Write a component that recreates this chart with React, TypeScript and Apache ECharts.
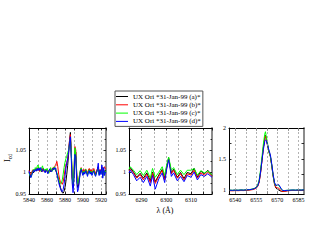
import React, { useEffect, useRef } from "react";
import * as echarts from "echarts";

const FONT = '"Liberation Serif", "Times New Roman", serif';

const NAMES = [
  "UX Ori *31-Jan-99 (a)*",
  "UX Ori *31-Jan-99 (b)*",
  "UX Ori *31-Jan-99 (c)*",
  "UX Ori *31-Jan-99 (d)*",
];
const COLORS = ["#000000", "#ff0000", "#00ff00", "#0000ff"];

// Panel 1 (Na D region)
const X1 = [
  5840, 5841, 5842, 5843, 5844, 5845, 5846, 5847, 5848, 5849, 5850, 5851, 5852, 5853, 5854, 5855, 5856, 5857, 5858, 5859,
  5860, 5861, 5862, 5863, 5864, 5865, 5866, 5867, 5868, 5869, 5870, 5871, 5872, 5873, 5874, 5875, 5876, 5877, 5878, 5879,
  5880, 5881, 5882, 5883, 5884, 5885, 5886, 5887, 5888, 5889, 5890, 5891, 5892, 5893, 5894, 5895, 5896, 5897, 5898, 5899,
  5900, 5901, 5902, 5903, 5904, 5905, 5906, 5907, 5908, 5909, 5910, 5911, 5912, 5913, 5914, 5915, 5916, 5917, 5918, 5919,
  5920, 5921, 5922, 5923, 5924, 5925,
];
const P1_A = [
  1.0, 0.995, 0.99, 0.996, 1.002, 0.998, 1.003, 1.006, 1.002, 1.007, 1.004, 1.009, 1.003, 1.006, 1.001, 1.004, 1.008, 1.003, 1.0, 1.005,
  1.002, 0.998, 1.003, 1.006, 1.001, 1.004, 1.008, 1.005, 1.01, 1.006, 1.002, 0.996, 0.99, 0.982, 0.973, 0.965, 0.958, 0.953, 0.952, 0.956,
  0.965, 0.978, 0.995, 1.015, 1.04, 1.07, 1.09, 1.045, 0.99, 0.965, 0.99, 1.03, 1.045, 1.0, 0.965, 0.968, 0.985, 1.0, 1.008, 1.002,
  0.995, 1.003, 0.998, 1.004, 1.0, 0.995, 1.002, 1.006, 0.999, 1.003, 0.996, 1.001, 1.005, 0.998, 0.994, 1.0, 1.004, 1.01, 0.995, 1.003,
  0.998, 1.012, 0.992, 1.005, 0.998, 1.004,
];
const P1_B = [
  1.004, 0.998, 0.993, 0.999, 1.005, 1.001, 1.006, 1.003, 1.008, 1.004, 1.01, 1.005, 1.001, 1.007, 1.003, 1.008, 1.004, 1.0, 1.005, 1.002,
  1.006, 1.001, 0.998, 1.004, 1.008, 1.003, 1.006, 1.011, 1.007, 1.014, 1.018, 1.024, 1.012, 0.995, 0.984, 0.976, 0.974, 0.972, 0.978, 0.99,
  1.005, 1.015, 1.022, 1.03, 1.048, 1.07, 1.085, 1.04, 0.985, 0.97, 1.0, 1.058, 1.05, 0.995, 0.97, 0.975, 0.99, 1.002, 1.01, 1.004,
  0.998, 1.006, 1.001, 1.007, 1.002, 0.997, 1.004, 1.008, 1.002, 1.006, 0.999, 1.004, 1.008, 1.001, 0.997, 1.003, 1.007, 1.012, 0.998, 1.006,
  1.001, 1.01, 0.995, 1.008, 1.012, 1.006,
];
const P1_C = [
  0.998, 0.992, 0.988, 0.994, 1.0, 1.006, 1.002, 1.01, 1.005, 1.012, 1.016, 1.006, 1.01, 1.002, 1.008, 1.014, 1.006, 1.002, 1.007, 1.003,
  1.008, 1.002, 0.997, 1.005, 1.01, 1.004, 1.002, 1.008, 1.012, 1.008, 1.004, 0.998, 0.99, 0.982, 0.976, 0.973, 0.975, 0.982, 0.995, 1.01,
  1.022, 1.03, 1.036, 1.044, 1.05, 1.062, 1.075, 1.045, 0.99, 0.972, 1.005, 1.055, 1.04, 0.99, 0.972, 0.978, 0.992, 1.004, 1.009, 1.0,
  0.994, 1.002, 0.997, 1.006, 1.001, 0.993, 1.0, 1.005, 0.997, 1.002, 0.994, 1.0, 1.004, 0.996, 0.992, 0.999, 1.003, 1.008, 0.994, 1.002,
  0.996, 1.008, 0.99, 1.003, 0.997, 1.002,
];
const P1_D = [
  1.002, 0.994, 0.987, 0.992, 0.999, 1.004, 1.0, 1.006, 1.002, 1.008, 1.003, 1.009, 1.004, 1.01, 1.004, 1.001, 1.006, 1.002, 0.998, 1.004,
  1.001, 0.996, 1.002, 1.007, 1.003, 1.0, 1.005, 1.009, 1.006, 1.01, 1.004, 0.995, 0.985, 0.976, 0.968, 0.962, 0.957, 0.955, 0.96, 0.972,
  0.99, 1.008, 1.02, 1.03, 1.045, 1.065, 1.08, 1.03, 0.975, 0.953, 0.985, 1.04, 1.035, 0.98, 0.955, 0.962, 0.982, 0.998, 1.006, 0.998,
  0.992, 1.0, 0.995, 1.003, 0.998, 0.99, 0.998, 1.003, 0.995, 1.0, 0.992, 0.998, 1.002, 0.994, 0.99, 0.997, 1.006, 1.02, 0.992, 1.004,
  0.994, 1.016, 0.986, 1.01, 0.992, 1.0,
];

// Panel 2
const X2 = [
  6285, 6285.5, 6286.8, 6288.1, 6289.5, 6290.8, 6292.2, 6293.6, 6294.5, 6295.6, 6297, 6298.4, 6299.4, 6300.2, 6301, 6302.1,
  6303, 6304.5, 6305.8, 6307.2, 6308.5, 6310, 6311.3, 6312.6, 6314, 6315.4, 6316.8, 6318.5,
];
const P2_A = [
  1.004, 1.01, 1.0, 0.988, 0.997, 0.986, 0.998, 0.98, 1.0, 0.978, 0.993, 1.006, 0.986, 1.012, 1.032, 0.998,
  1.006, 0.988, 0.999, 0.985, 0.999, 0.996, 1.008, 0.989, 1.002, 0.996, 1.004, 0.992,
];
const P2_B = [
  1.002, 1.006, 0.998, 0.986, 0.994, 0.982, 0.995, 0.976, 0.998, 0.974, 0.99, 1.004, 0.982, 1.01, 1.03, 0.996,
  1.004, 0.986, 0.996, 0.982, 0.996, 0.993, 1.004, 0.986, 0.998, 0.993, 1.0, 0.99,
];
const P2_C = [
  1.006, 1.012, 1.004, 0.994, 1.003, 0.992, 1.004, 0.986, 1.008, 0.988, 0.999, 1.012, 0.992, 1.016, 1.034, 1.004,
  1.01, 0.994, 1.004, 0.994, 1.004, 1.004, 1.008, 0.993, 1.003, 0.998, 1.002, 0.994,
];
const P2_D = [
  0.998, 1.004, 0.994, 0.98, 0.988, 0.976, 0.99, 0.968, 0.992, 0.961, 0.984, 0.998, 0.976, 1.006, 1.028, 0.99,
  0.998, 0.98, 0.99, 0.978, 0.992, 0.988, 1.0, 0.982, 0.994, 0.99, 0.996, 0.988,
];

// Panel 3 (H-alpha)
const X3 = [
  6536, 6538, 6540, 6542, 6544, 6546, 6548, 6550, 6552, 6553.5, 6555, 6556, 6557, 6558, 6559, 6560, 6561, 6561.5, 6562, 6563,
  6564, 6565, 6566, 6567, 6568, 6569, 6570, 6571, 6572, 6573, 6574, 6575, 6577, 6579, 6581, 6583, 6585, 6587, 6589,
];
const P3_A = [
  0.995, 0.992, 0.996, 0.993, 0.997, 0.995, 1.0, 1.003, 1.01, 1.02, 1.04, 1.07, 1.13, 1.28, 1.48, 1.68, 1.84, 1.88, 1.84, 1.72,
  1.61, 1.54, 1.39, 1.22, 1.09, 1.03, 1.01, 1.0, 0.985, 0.978, 0.976, 0.98, 0.988, 0.992, 0.995, 0.993, 0.997, 0.995, 0.998,
];
const P3_B = [
  0.988, 0.986, 0.99, 0.988, 0.991, 0.99, 0.994, 0.998, 1.004, 1.012, 1.03, 1.06, 1.12, 1.27, 1.47, 1.68, 1.83, 1.87, 1.83, 1.72,
  1.62, 1.55, 1.4, 1.23, 1.1, 1.04, 1.035, 1.03, 1.0, 0.982, 0.975, 0.978, 0.986, 0.99, 0.992, 0.991, 0.994, 0.993, 0.996,
];
const P3_C = [
  0.997, 0.995, 0.999, 0.996, 1.0, 0.998, 1.003, 1.006, 1.014, 1.025, 1.045, 1.08, 1.16, 1.32, 1.53, 1.74, 1.9, 1.94, 1.88, 1.75,
  1.62, 1.55, 1.4, 1.23, 1.11, 1.065, 1.08, 1.075, 1.04, 1.005, 0.99, 0.99, 0.995, 0.998, 1.0, 0.998, 1.001, 0.999, 1.002,
];
const P3_D = [
  0.996, 0.994, 0.998, 0.995, 0.999, 0.997, 1.002, 1.005, 1.012, 1.022, 1.04, 1.07, 1.14, 1.29, 1.47, 1.65, 1.78, 1.81, 1.8, 1.73,
  1.64, 1.57, 1.42, 1.25, 1.12, 1.07, 1.09, 1.085, 1.05, 1.01, 0.992, 0.99, 0.994, 0.997, 0.999, 0.997, 1.0, 0.998, 1.001,
];

const X3_LABELS = [6540, 6555, 6570, 6585];
const X3_GRID = [6540, 6547.5, 6555, 6562.5, 6570, 6577.5, 6585];
const Y3_LABELS = [1, 1.5, 2];
const Y3_TICKS = [1, 1.25, 1.5, 1.75, 2];

const PANELS = [
  { x: X1, ys: [P1_A, P1_B, P1_C, P1_D] },
  { x: X2, ys: [P2_A, P2_B, P2_C, P2_D] },
  { x: X3, ys: [P3_A, P3_B, P3_C, P3_D] },
];

const GRIDS = [
  { left: 29, top: 128, width: 77, height: 66 },
  { left: 129, top: 128, width: 83, height: 66 },
  { left: 229, top: 128, width: 75, height: 66 },
];

const tickLabel = { fontSize: 6, fontFamily: FONT, color: "#000" };
const dashed = { color: "#a0a0a0", type: [2, 2] as any, width: 0.8 };

function fmt(v: number) {
  return String(parseFloat(v.toFixed(3)));
}

export default function App() {
  const ref = useRef<HTMLDivElement>(null);
  useEffect(() => {
    if (!ref.current) return;
    const chart = echarts.init(ref.current, undefined, { renderer: "svg" });

    const xAxes: any[] = [];
    const yAxes: any[] = [];
    const xMain: any[] = [
      {
        min: 5840, max: 5925.6, interval: 10,
        axisLabel: { ...tickLabel, margin: 3, formatter: (v: number) => (Math.abs(v % 20) < 1e-6 ? fmt(v) : "") },
        splitLine: { show: true, lineStyle: dashed },
      },
      {
        min: 6285, max: 6318.5, interval: 5,
        axisLabel: { ...tickLabel, margin: 3, formatter: (v: number) => (Math.abs(v % 10) < 1e-6 ? fmt(v) : "") },
        splitLine: { show: true, lineStyle: dashed },
      },
      {
        min: 6535.5, max: 6589,
        axisLabel: { ...tickLabel, margin: 3, customValues: X3_LABELS, formatter: (v: number) => fmt(v) },
        axisTick: { show: true, inside: true, length: 2.5, customValues: X3_GRID, lineStyle: { color: "#000", width: 0.8 } },
        splitLine: { show: false },
      },
    ];
    const yMain: any[] = [
      {
        min: 0.95, max: 1.1, interval: 0.05,
        axisLabel: { ...tickLabel, margin: 3, formatter: (v: number) => (v > 1.09 ? "" : fmt(v)) },
        minorTick: { show: true, splitNumber: 2, length: 1.5, lineStyle: { color: "#000", width: 0.8 } },
      },
      {
        min: 0.95, max: 1.1, interval: 0.05,
        axisLabel: { ...tickLabel, margin: 3, formatter: (v: number) => (v > 1.09 ? "" : fmt(v)) },
        minorTick: { show: true, splitNumber: 2, length: 1.5, lineStyle: { color: "#000", width: 0.8 } },
      },
      {
        min: 0.935, max: 2,
        axisLabel: { ...tickLabel, margin: 3, customValues: Y3_LABELS, formatter: (v: number) => fmt(v) },
        axisTick: { show: true, inside: true, length: 2.5, customValues: Y3_TICKS, lineStyle: { color: "#000", width: 0.8 } },
      },
    ];

    GRIDS.forEach((_, p) => {
      const xm = xMain[p];
      const ym = yMain[p];
      xAxes.push({
        type: "value", gridIndex: p, position: "bottom", ...xm,
        axisLine: { show: true, onZero: false, lineStyle: { color: "#000", width: 1 } },
        axisTick: xm.axisTick || { show: true, inside: true, length: 2.5, lineStyle: { color: "#000", width: 0.8 } },
      });
      xAxes.push({
        type: "value", gridIndex: p, position: "top", min: xm.min, max: xm.max, interval: xm.interval,
        axisLine: { show: true, onZero: false, lineStyle: { color: "#000", width: 1 } },
        axisTick: xm.axisTick || { show: true, inside: true, length: 2.5, lineStyle: { color: "#000", width: 0.8 } },
        axisLabel: { show: false },
        splitLine: { show: false },
      });
      yAxes.push({
        type: "value", gridIndex: p, position: "left", ...ym,
        axisLine: { show: true, onZero: false, lineStyle: { color: "#000", width: 1 } },
        axisTick: ym.axisTick || { show: true, inside: true, length: 2.5, lineStyle: { color: "#000", width: 0.8 } },
        splitLine: { show: false },
      });
      yAxes.push({
        type: "value", gridIndex: p, position: "right", min: ym.min, max: ym.max, interval: ym.interval,
        axisLine: { show: true, onZero: false, lineStyle: { color: "#8c8c8c", width: 2 } },
        axisTick: ym.axisTick || { show: true, inside: true, length: 2.5, lineStyle: { color: "#000", width: 0.8 } },
        minorTick: ym.minorTick,
        axisLabel: { show: false },
        splitLine: { show: false },
      });
    });

    const series: any[] = [];
    PANELS.forEach((panel, p) => {
      panel.ys.forEach((ys, s) => {
        const item: any = {
          type: "line",
          name: NAMES[s],
          xAxisIndex: p * 2,
          yAxisIndex: p * 2,
          data: panel.x.map((x, i) => [x, ys[i]]),
          symbol: "none",
          showSymbol: false,
          clip: true,
          lineStyle: { width: 1, color: COLORS[s] },
          itemStyle: { color: COLORS[s] },
        };
        if (p === 2 && s === 0) {
          item.markLine = {
            silent: true,
            symbol: "none",
            label: { show: false },
            lineStyle: dashed,
            data: X3_GRID.map((v) => ({ xAxis: v })),
          };
        }
        series.push(item);
      });
    });

    chart.setOption({
      animation: false,
      backgroundColor: "#fff",
      grid: GRIDS.map((g) => ({ ...g, containLabel: false })),
      xAxis: xAxes,
      yAxis: yAxes,
      legend: {
        data: NAMES,
        orient: "vertical",
        left: 115,
        top: 91,
        padding: [1.5, 2, 1, 1],
        itemWidth: 12,
        itemHeight: 1,
        itemGap: 0.3,
        icon: "rect",
        backgroundColor: "#fff",
        borderColor: "#555",
        borderWidth: 1,
        textStyle: { fontSize: 7, fontFamily: FONT, color: "#000", lineHeight: 8 },
      },
      graphic: [
        {
          type: "text",
          x: 165,
          y: 210,
          style: { text: "λ (Å)", fontSize: 8, fontFamily: FONT, fill: "#000", align: "center", verticalAlign: "middle" },
        },
        {
          type: "text",
          x: 8,
          y: 158,
          rotation: Math.PI / 2,
          style: {
            text: "{i|I}{s|cd}",
            align: "center",
            verticalAlign: "middle",
            rich: {
              i: { fontSize: 8, fontFamily: FONT, fill: "#000", lineHeight: 10, verticalAlign: "top" },
              s: { fontSize: 5.5, fontFamily: FONT, fill: "#000", lineHeight: 10, verticalAlign: "bottom" },
            },
          },
        },
      ],
      series,
    });
    return () => chart.dispose();
  }, []);

  return (
    <div
      ref={ref}
      style={{ position: "fixed", left: 0, top: 0, width: 317, height: 245, background: "#fff" }}
    />
  );
}
